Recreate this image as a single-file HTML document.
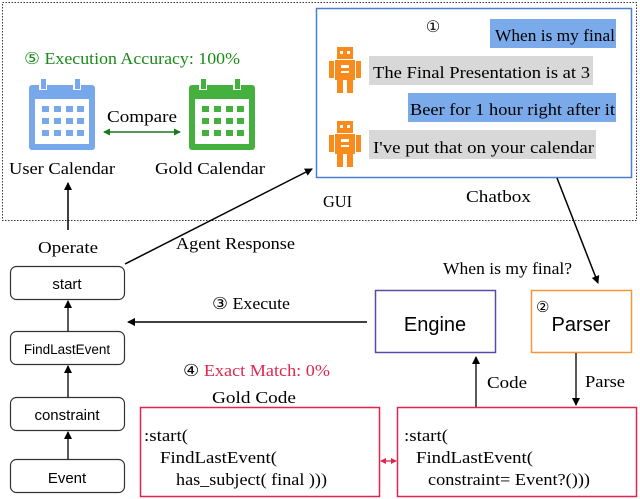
<!DOCTYPE html>
<html><head><meta charset="utf-8"><style>
body{margin:0;background:#fff}
svg{display:block}
.s{font-family:"Liberation Serif",serif}
.a{font-family:"Liberation Sans",sans-serif}
</style></head><body>
<svg width="640" height="499" viewBox="0 0 640 499" xmlns="http://www.w3.org/2000/svg">
<defs>
<marker id="ar" markerWidth="8" markerHeight="8" refX="7" refY="4" orient="auto" markerUnits="userSpaceOnUse"><path d="M0,0 L8,4 L0,8 Z" fill="#000"/></marker>
<marker id="gr" markerWidth="7" markerHeight="7" refX="6" refY="3.5" orient="auto-start-reverse" markerUnits="userSpaceOnUse"><path d="M0,0 L7,3.5 L0,7 Z" fill="#1a7a1a"/></marker>
<marker id="rr" markerWidth="6" markerHeight="6" refX="5" refY="3" orient="auto-start-reverse" markerUnits="userSpaceOnUse"><path d="M0,0 L6,3 L0,6 Z" fill="#e0264f"/></marker>
<g id="cal">
<rect x="0" y="6" width="66" height="65" rx="3"/>
<rect x="10" y="0" width="8" height="11" fill="#fff"/><rect x="12" y="0" width="5" height="10"/>
<rect x="44" y="0" width="8" height="11" fill="#fff"/><rect x="46" y="0" width="5" height="10"/>
<rect x="6" y="20" width="54" height="45" fill="#fff"/>
<g>
<rect x="13" y="27" width="7" height="6"/><rect x="25" y="27" width="7" height="6"/><rect x="37" y="27" width="7" height="6"/><rect x="48" y="27" width="7" height="6"/>
<rect x="13" y="39" width="7" height="6"/><rect x="25" y="39" width="7" height="6"/><rect x="37" y="39" width="7" height="6"/><rect x="48" y="39" width="7" height="6"/>
<rect x="13" y="51" width="7" height="6"/><rect x="25" y="51" width="7" height="6"/><rect x="37" y="51" width="7" height="6"/><rect x="48" y="51" width="7" height="6"/>
</g>
</g>
<g id="rob" fill="#f98a1c">
<rect x="8" y="0" width="16" height="12"/>
<rect x="6" y="13" width="20" height="20"/>
<rect x="0" y="14" width="5" height="17"/><rect x="27" y="14" width="5" height="17"/>
<rect x="8" y="33" width="6" height="13"/><rect x="18" y="33" width="6" height="13"/>
<rect x="11" y="4" width="3" height="3" fill="#fff"/><rect x="18" y="4" width="3" height="3" fill="#fff"/>
<rect x="12" y="18" width="8" height="3" fill="#fff"/><rect x="12" y="24" width="8" height="2" fill="#fff"/>
</g>
</defs>

<rect x="2.5" y="2.5" width="634" height="218" fill="none" stroke="#333" stroke-width="1" stroke-dasharray="1.5,1.5"/>

<text x="24" y="64" class="s" font-size="16.5" fill="#1a8a1a" textLength="216" lengthAdjust="spacingAndGlyphs">⑤ Execution Accuracy: 100%</text>
<use href="#cal" x="29" y="79" fill="#78a8ec"/>
<use href="#cal" x="189" y="79" fill="#44b03e"/>
<text x="107" y="122" class="s" font-size="16.5" textLength="70" lengthAdjust="spacingAndGlyphs">Compare</text>
<line x1="104" y1="132" x2="180" y2="132" stroke="#1a7a1a" stroke-width="1.5" marker-start="url(#gr)" marker-end="url(#gr)"/>
<text x="9" y="174" class="s" font-size="16.5" textLength="106" lengthAdjust="spacingAndGlyphs">User Calendar</text>
<text x="155" y="174" class="s" font-size="16.5" textLength="110" lengthAdjust="spacingAndGlyphs">Gold Calendar</text>
<line x1="68" y1="230" x2="68" y2="183" stroke="#000" stroke-width="1.5" marker-end="url(#ar)"/>
<text x="38" y="253" class="s" font-size="16.5" textLength="60" lengthAdjust="spacingAndGlyphs">Operate</text>
<text x="176" y="249" class="s" font-size="16.5" textLength="119" lengthAdjust="spacingAndGlyphs">Agent Response</text>
<line x1="125" y1="264" x2="312" y2="169" stroke="#000" stroke-width="1.5" marker-end="url(#ar)"/>

<rect x="316.5" y="8.5" width="315" height="169" fill="#fff" stroke="#4a7fd6" stroke-width="1.5"/>
<text x="433" y="32" class="s" font-size="16" text-anchor="middle">①</text>
<rect x="490" y="19" width="126" height="29" fill="#7aaaea"/>
<text x="495" y="41" class="s" font-size="17" textLength="120" lengthAdjust="spacingAndGlyphs">When is my final</text>
<use href="#rob" x="329" y="47"/>
<rect x="369" y="56" width="224" height="29" fill="#d8d8d8"/>
<text x="373" y="78" class="s" font-size="17" textLength="217" lengthAdjust="spacingAndGlyphs">The Final Presentation is at 3</text>
<rect x="408" y="93" width="208" height="29" fill="#7aaaea"/>
<text x="410" y="115" class="s" font-size="17" textLength="205" lengthAdjust="spacingAndGlyphs">Beer for 1 hour right after it</text>
<use href="#rob" x="329" y="121"/>
<rect x="369" y="130" width="227" height="29" fill="#d8d8d8"/>
<text x="373" y="153" class="s" font-size="17" textLength="221" lengthAdjust="spacingAndGlyphs">I've put that on your calendar</text>
<text x="323" y="207" class="s" font-size="16.5" textLength="29" lengthAdjust="spacingAndGlyphs">GUI</text>
<text x="466" y="202" class="s" font-size="16.5" textLength="65" lengthAdjust="spacingAndGlyphs">Chatbox</text>
<line x1="557" y1="178" x2="598" y2="283" stroke="#000" stroke-width="1.5" marker-end="url(#ar)"/>
<text x="443" y="274" class="s" font-size="16.5" textLength="129" lengthAdjust="spacingAndGlyphs">When is my final?</text>

<rect x="10.5" y="266.5" width="114" height="33" rx="6" fill="#fff" stroke="#333" stroke-width="1.2"/>
<text x="67" y="289" class="a" font-size="15" text-anchor="middle">start</text>
<rect x="10.5" y="331.5" width="114" height="33" rx="6" fill="#fff" stroke="#333" stroke-width="1.2"/>
<text x="67" y="354" class="a" font-size="13.5" text-anchor="middle">FindLastEvent</text>
<rect x="10.5" y="397.5" width="114" height="33" rx="6" fill="#fff" stroke="#333" stroke-width="1.2"/>
<text x="67" y="420" class="a" font-size="15" text-anchor="middle">constraint</text>
<rect x="10.5" y="459.5" width="114" height="33" rx="6" fill="#fff" stroke="#333" stroke-width="1.2"/>
<text x="67" y="483" class="a" font-size="15" text-anchor="middle">Event</text>
<line x1="68" y1="331" x2="68" y2="301" stroke="#000" stroke-width="1.3" marker-end="url(#ar)"/>
<line x1="68" y1="397" x2="68" y2="366" stroke="#000" stroke-width="1.3" marker-end="url(#ar)"/>
<line x1="68" y1="459" x2="68" y2="432" stroke="#000" stroke-width="1.3" marker-end="url(#ar)"/>

<text x="212" y="309" class="s" font-size="16.5" textLength="78" lengthAdjust="spacingAndGlyphs">③ Execute</text>
<line x1="367" y1="322" x2="128" y2="322" stroke="#000" stroke-width="1.5" marker-end="url(#ar)"/>
<rect x="375.5" y="290.5" width="120" height="62" fill="#fff" stroke="#5a4aa8" stroke-width="1.5"/>
<text x="435" y="331" class="a" font-size="20" text-anchor="middle">Engine</text>
<rect x="531.5" y="290.5" width="100" height="62" fill="#fff" stroke="#f7963a" stroke-width="1.5"/>
<text x="536" y="312" class="s" font-size="15">②</text>
<text x="581" y="331" class="a" font-size="20" text-anchor="middle">Parser</text>

<text x="183" y="376" class="s" font-size="16.5" textLength="147" lengthAdjust="spacingAndGlyphs"><tspan>④ </tspan><tspan fill="#e0264f">Exact Match: 0%</tspan></text>
<text x="212" y="403" class="s" font-size="16.5" textLength="84" lengthAdjust="spacingAndGlyphs">Gold Code</text>
<line x1="476" y1="407" x2="476" y2="357" stroke="#000" stroke-width="1.3" marker-end="url(#ar)"/>
<text x="487" y="388" class="s" font-size="16.5" textLength="40" lengthAdjust="spacingAndGlyphs">Code</text>
<line x1="576" y1="353" x2="576" y2="405" stroke="#000" stroke-width="1.3" marker-end="url(#ar)"/>
<text x="585" y="387" class="s" font-size="16.5" textLength="40" lengthAdjust="spacingAndGlyphs">Parse</text>

<rect x="140.5" y="407.5" width="239" height="89" fill="#fff" stroke="#e0264f" stroke-width="1.5"/>
<text x="144" y="441" class="s" font-size="16.5" textLength="44" lengthAdjust="spacingAndGlyphs">:start(</text>
<text x="160" y="463" class="s" font-size="16.5" textLength="117" lengthAdjust="spacingAndGlyphs">FindLastEvent(</text>
<text x="176" y="485" class="s" font-size="16.5" textLength="151" lengthAdjust="spacingAndGlyphs">has_subject( final )))</text>
<rect x="397.5" y="407.5" width="239" height="89" fill="#fff" stroke="#e0264f" stroke-width="1.5"/>
<text x="404" y="441" class="s" font-size="16.5" textLength="44" lengthAdjust="spacingAndGlyphs">:start(</text>
<text x="416" y="463" class="s" font-size="16.5" textLength="117" lengthAdjust="spacingAndGlyphs">FindLastEvent(</text>
<text x="428" y="485" class="s" font-size="16.5" textLength="162" lengthAdjust="spacingAndGlyphs">constraint= Event?()))</text>
<line x1="381" y1="461" x2="396" y2="461" stroke="#e0264f" stroke-width="1.3" marker-start="url(#rr)" marker-end="url(#rr)"/>
</svg>
</body></html>
